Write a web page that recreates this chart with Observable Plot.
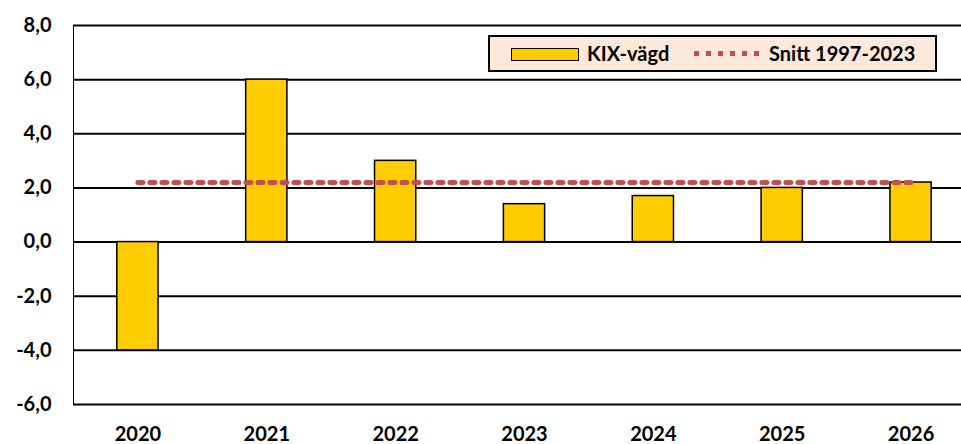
<!DOCTYPE html>
<html>
<head>
<meta charset="utf-8">
<script src="https://cdn.jsdelivr.net/npm/d3@7"></script>
<script src="https://cdn.jsdelivr.net/npm/@observablehq/plot@0.6"></script>
<style>
  html, body { margin: 0; padding: 0; background: #fff; overflow: hidden; }
  #wrap { position: relative; width: 961px; height: 444px; overflow: hidden; font-family: Lato, "Liberation Sans", sans-serif; }
  #legend { position: absolute; left: 488px; top: 35px; width: 445px; height: 33px; background: #FDE9D9; border: 2px solid #000; box-sizing: content-box; font-weight: 700; font-size: 20px; color: #000; }
  .sw { position: absolute; left: 21px; top: 11px; width: 66px; height: 11px; background: #FFCC00; border: 1.5px solid #000; }
  .lab1 { position: absolute; left: 97px; top: 4px; }
  .dots { position: absolute; left: 204px; top: 14px; width: 68px; height: 5px; background: repeating-linear-gradient(to right, #C0504D 0 5px, transparent 5px 12px); }
  .lab2 { position: absolute; left: 279px; top: 4px; }
</style>
</head>
<body>
<div id="wrap"></div>
<script>
const years = ["2020", "2021", "2022", "2023", "2024", "2025", "2026"];
const kixValues = [-4.0, 6.0, 3.0, 1.4, 1.7, 2.0, 2.2];
const snittValue = 2.2;
const yTicks = [-6, -4, -2, 0, 2, 4, 6, 8];
const legendLabels = ["KIX-vägd", "Snitt 1997-2023"];

const bars = years.map((y, i) => ({year: y, value: kixValues[i]}));
const avg = years.map(y => ({year: y, value: snittValue}));

const chart = Plot.plot({
  width: 961,
  height: 444,
  marginLeft: 73,
  marginRight: 0,
  marginTop: 25,
  marginBottom: 40,
  style: {fontFamily: "Lato, 'Liberation Sans', sans-serif", fontSize: "20px", fontWeight: "700", color: "#000", background: "#fff", overflow: "hidden"},
  x: {type: "band", domain: years, range: [73, 975], round: false, paddingInner: 0.68, paddingOuter: 0.34, label: null, tickSize: 0, tickPadding: 22},
  y: {domain: [-6, 8], ticks: yTicks, tickFormat: d => d.toFixed(1).replace(".", ","), label: null, tickSize: 0, tickPadding: 22, line: true},
  marks: [
    Plot.ruleY(yTicks, {stroke: "#000", strokeWidth: 2}),
    Plot.barY(bars, {x: "year", y: "value", fill: "#FFCC00", stroke: "#000", strokeWidth: 1.5}),
    Plot.lineY(avg, {x: "year", y: "value", stroke: "#C0504D", strokeWidth: 5, strokeDasharray: "5,7"})
  ]
});
const wrap = document.getElementById("wrap");
wrap.appendChild(chart);

const legend = document.createElement("div");
legend.id = "legend";
legend.innerHTML = `<div class="sw"></div><div class="lab1">${legendLabels[0]}</div><div class="dots"></div><div class="lab2">${legendLabels[1]}</div>`;
wrap.appendChild(legend);
</script>
</body>
</html>
